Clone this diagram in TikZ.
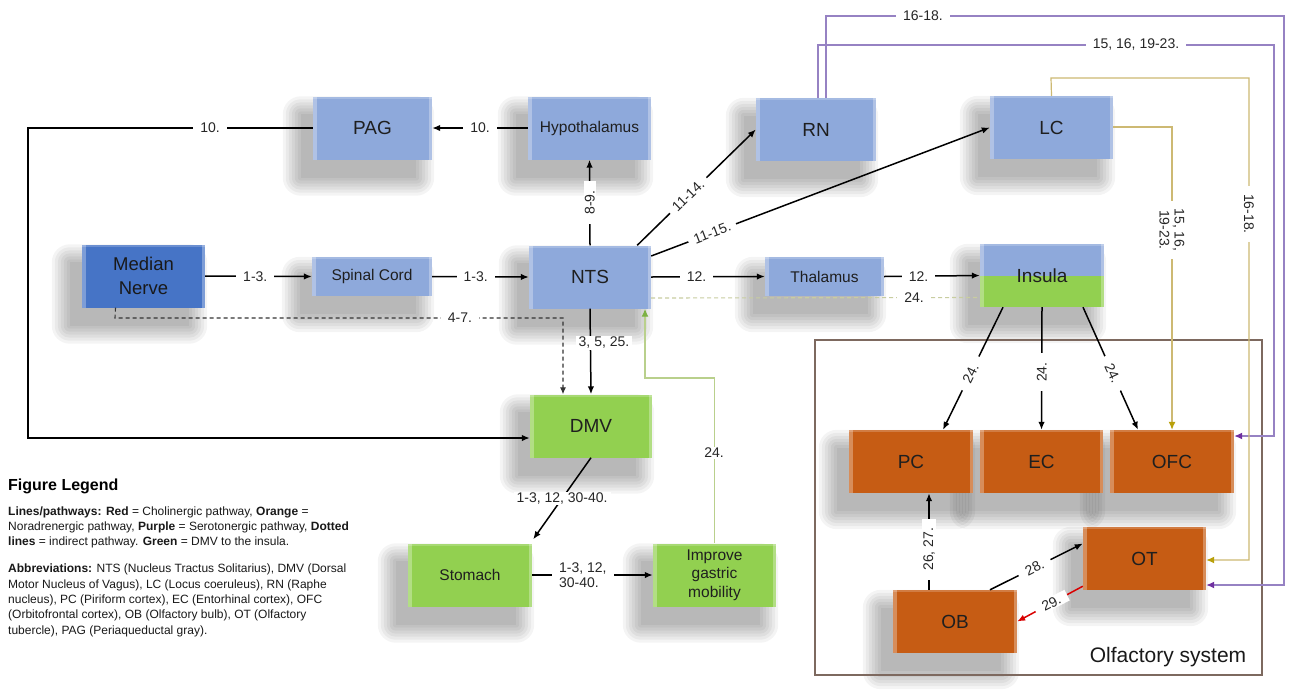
\documentclass[tikz,border=0pt]{standalone}
\usepackage{fontspec}
\setmainfont{Liberation Sans}
\usetikzlibrary{arrows.meta}
\pgfdeclarelayer{paper}
\pgfdeclarelayer{shade}
\pgfsetlayers{paper,shade,main}
\definecolor{bbox}{RGB}{142,169,219}
\definecolor{dbox}{RGB}{70,116,198}
\definecolor{gbox}{RGB}{146,208,80}
\definecolor{obox}{RGB}{198,92,20}
\definecolor{purp}{RGB}{150,130,195}
\definecolor{purpA}{RGB}{112,48,160}
\definecolor{gold}{RGB}{205,185,115}
\definecolor{goldA}{RGB}{185,160,10}
\definecolor{lgreen}{RGB}{185,208,140}
\definecolor{dgreen}{RGB}{200,205,160}
\definecolor{framec}{RGB}{125,105,95}
\newcommand\boxbevel{%
  \fill[white,opacity=.3] (path picture bounding box.south west) rectangle ([xshift=3.5pt]path picture bounding box.north west);
  \fill[white,opacity=.3] ([xshift=-3.5pt]path picture bounding box.south east) rectangle (path picture bounding box.north east);
  \fill[white,opacity=.2] ([yshift=-2pt]path picture bounding box.north west) rectangle (path picture bounding box.north east);}
\tikzset{
  box/.style={rectangle, minimum width=122pt, minimum height=63pt, inner sep=0pt, align=center,
    font=\fontsize{19}{21}\selectfont, text=black!88,
    path picture={\boxbevel}},
  bluebox/.style={box, fill=bbox},
  greenbox/.style={box, fill=gbox},
  orangebox/.style={box, fill=obox},
  smalltext/.style={font=\fontsize{15.5}{18.5}\selectfont},
  conn/.style={line width=1.5pt, black},
  arr/.style={conn, -{Latex[length=8pt,width=6.5pt]}},
  dashconn/.style={line width=1.1pt, black!80, dash pattern=on 4pt off 3pt},
  parr/.style={line width=1.2pt, purp, arrows={-{Latex[length=8pt,width=7pt,color=purpA]}}},
  garr/.style={line width=1.2pt, gold, arrows={-{Latex[length=8pt,width=7pt,color=goldA]}}},
  elabel/.style={fill=white, inner xsep=7pt, inner ysep=1pt, font=\fontsize{14}{16}\selectfont, text=black!85},
}
\begin{document}
\begin{tikzpicture}[x=1pt,y=-1pt]
\begin{pgfonlayer}{paper}
\useasboundingbox[fill=white] (0,0) rectangle (1300,691);
\end{pgfonlayer}

% frame
\draw[framec, line width=1.1pt] (815,340) rectangle (1262,675);
\node[font=\fontsize{21}{24}\selectfont, text=black!90] (olf) at (1168,657) {Olfactory system};

% boxes
\node[bluebox, minimum width=119pt] (pag) at (372.5,128) {PAG};
\node[bluebox, smalltext, minimum width=123pt] (hyp) at (589.5,128) {Hypothalamus};
\node[bluebox, minimum width=120pt] (rn) at (816,129.5) {RN};
\node[bluebox, minimum width=123pt] (lc) at (1051.5,127.5) {LC};
\node[box, fill=dbox, minimum width=123pt, font=\fontsize{18.5}{24}\selectfont, text=black!90] (mn) at (143.5,276) {Median\\Nerve};
\node[bluebox, smalltext, minimum width=120pt, minimum height=39pt] (sp) at (372,276.5) {Spinal Cord};
\node[bluebox, minimum width=122pt] (nts) at (590,277) {NTS};
\node[bluebox, smalltext, minimum width=119pt, minimum height=39pt] (thal) at (824.5,276.5) {Thalamus};
\node[box, fill=bbox, minimum width=124pt,
  path picture={\fill[gbox] (path picture bounding box.west) rectangle (path picture bounding box.south east); \boxbevel}] (ins) at (1042,275.5) {Insula};
\node[greenbox, minimum width=122pt] (dmv) at (591,426) {DMV};
\node[greenbox, smalltext, minimum width=124pt] (sto) at (470,575) {Stomach};
\node[greenbox, smalltext, minimum width=123pt] (imp) at (714.5,575) {Improve\\gastric\\mobility};
\node[orangebox, minimum width=124pt] (pc) at (911,461.5) {PC};
\node[orangebox, minimum width=123pt] (ec) at (1041.5,461.5) {EC};
\node[orangebox, minimum width=124pt] (ofc) at (1172,461.5) {OFC};
\node[orangebox, minimum width=123pt] (ot) at (1144.5,558.5) {OT};
\node[orangebox, minimum width=124pt] (ob) at (955,621.5) {OB};

% soft shadows
\begin{pgfonlayer}{shade}
\foreach \n in {pag,hyp,rn,lc,mn,sp,nts,thal,ins,dmv,sto,imp,pc,ec,ofc,ot,ob}{
  \foreach \k in {0,3,6,9,12,15,18}{
    \fill[black, opacity=.042, rounded corners=\k pt]
      ([xshift=-12pt-\k pt, yshift=-18pt-\k pt]\n.south west) rectangle
      ([xshift=-16pt+\k pt, yshift=-18pt+\k pt]\n.north east);
  }
}
\end{pgfonlayer}

% coordinates
\coordinate (c1) at (28,128);
\coordinate (c2) at (28,438);
\coordinate (c3) at (115,318);
\coordinate (c4) at (563,318);
\coordinate (c5) at (645,378);
\coordinate (c6) at (818,45);
\coordinate (c7) at (1274,45);
\coordinate (c8) at (1274,436);
\coordinate (c9) at (826,16);
\coordinate (c10) at (1284,16);
\coordinate (c11) at (1284,585);
\coordinate (c12) at (1172,127);
\coordinate (c13) at (1051,78);
\coordinate (c14) at (1249,78);
\coordinate (c15) at (1249,560);

% black connectors
\draw[arr] (pag.west) -- (c1) -- (c2) -- (dmv.west |- c2);
\node[elabel] (l10a) at (210,128) {10.};
\draw[arr] (hyp.west) -- node[elabel, pos=.5] (l10b) {10.} (pag.east);
\draw[arr] (nts.north) -- node[elabel, pos=.5, rotate=90, inner xsep=9pt] (l89) {8-9.} (hyp.south);
\draw[arr] ([xshift=-14pt]nts.north east) -- node[elabel, pos=.43, rotate=44, inner ysep=0pt, inner xsep=6pt] (l1114) {11-14.} (rn.west);
\draw[arr] ([yshift=21pt]nts.east) -- node[elabel, pos=.18, rotate=21, inner ysep=0pt, inner xsep=6pt] (l1115) {11-15.} (lc.west);
\draw[arr] (mn.east) -- node[elabel, pos=.47] (l13a) {1-3.} (sp.west);
\draw[arr] (sp.east) -- node[elabel, pos=.45] (l13b) {1-3.} (nts.west);
\draw[arr] (nts.east) -- node[elabel, pos=.4] (l12a) {12.} (thal.west);
\draw[arr] (thal.east) -- node[elabel, pos=.36] (l12b) {12.} (ins.west);
\draw[arr] (nts.south) -- (dmv.north);
\node[elabel, inner xsep=3pt] (l3525) at (604,343) {3, 5, 25.};
\draw[arr] (dmv.south) -- node[elabel, pos=.5, inner xsep=3pt] (l1330) {1-3, 12, 30-40.} ([xshift=1pt,yshift=4pt]sto.north east);
\draw[arr] (sto.east) -- node[elabel, pos=.42, align=left, font=\fontsize{14}{15}\selectfont] (l1330b) {1-3, 12,\\30-40.} (imp.west);
\draw[arr] ([xshift=-39pt]ins.south) -- node[elabel, pos=.54, rotate=64, inner xsep=9pt] (l24a) {24.} ([xshift=32pt]pc.north);
\draw[arr] (ins.south) -- node[elabel, pos=.53, rotate=90, inner xsep=9pt] (l24b) {24.} (ec.north);
\draw[arr] ([xshift=41pt]ins.south) -- node[elabel, pos=.54, rotate=-65, inner xsep=9pt] (l24c) {24.} ([xshift=-34pt]ofc.north);
\draw[arr] ([xshift=-26pt]ob.north) -- node[elabel, pos=.42, rotate=90, inner xsep=9pt] (l2627) {26, 27.} ([xshift=-26pt]ob.north |- pc.south);
\draw[arr] ([xshift=35pt]ob.north) -- node[elabel, pos=.48, rotate=27, inner xsep=8pt] (l28) {28.} ([yshift=15pt]ot.west);
\draw[line width=1.5pt, red!85!black, -{Latex[length=8pt,width=6.5pt]}] ([yshift=4pt]ot.south west) -- node[elabel, pos=.48, rotate=27, inner xsep=8pt] (l29) {29.} (ob.east);

% dashed indirect
\draw[dashconn, -{Latex[length=7pt,width=6pt]}] ([xshift=-28pt]mn.south) -- (c3) -- (c4) -- (c4 |- dmv.north);
\node[elabel] (l47) at (460,318) {4-7.};
\draw[line width=1.1pt, dgreen, dash pattern=on 4pt off 3pt] ([yshift=-21pt]nts.east) -- node[elabel, pos=.8] (l24d) {24.} ([yshift=-22pt]ins.west);

% green
\draw[line width=1.2pt, lgreen, arrows={-{Latex[length=8pt,width=7pt,color=gbox!85!black]}}] (imp.north) |- (c5) -- (c5 |- nts.south);
\node[elabel] (l24e) at (714,453) {24.};

% purple
\draw[parr] ([xshift=2pt]rn.north) -- (c6) -- (c7) -- (c8) -- (ofc.east |- c8);
\node[elabel] (l15a) at (1136,45) {15, 16, 19-23.};
\draw[parr] ([xshift=10pt]rn.north) -- (c9) -- (c10) -- (c11) -- (ot.east |- c11);
\node[elabel] (l1618a) at (923,16) {16-18.};

% gold
\draw[garr] (lc.east |- c12) -- (c12) -- (ofc.north);
\node[elabel, rotate=-90, align=center, font=\fontsize{14}{15}\selectfont, inner xsep=8pt] (l15b) at (1172,230) {15, 16,\\19-23.};
\draw[garr] (lc.north) -- (c13) -- (c14) -- (c15) -- (ot.east |- c15);
\node[elabel, rotate=-90, inner xsep=8pt] (l1618b) at (1249,214) {16-18.};

% legend
\node[anchor=base west, inner sep=0pt, font=\fontsize{16}{18}\selectfont\bfseries] (legt) at (8,490) {Figure Legend};
\node[anchor=north west, inner sep=0pt, align=left, font=\fontsize{12}{15}\selectfont, text=black!90] (leg1) at (8,507)
 {\textbf{Lines/pathways:} \textbf{Red} = Cholinergic pathway, \textbf{Orange} =\\
  Noradrenergic pathway, \textbf{Purple} = Serotonergic pathway, \textbf{Dotted}\\
  \textbf{lines} = indirect pathway. \textbf{Green} = DMV to the insula.};
\node[anchor=north west, inner sep=0pt, align=left, font=\fontsize{12}{15.3}\selectfont, text=black!90] (leg2) at (8,564)
 {\textbf{Abbreviations:} NTS (Nucleus Tractus Solitarius), DMV (Dorsal\\
  Motor Nucleus of Vagus), LC (Locus coeruleus), RN (Raphe\\
  nucleus), PC (Piriform cortex), EC (Entorhinal cortex), OFC\\
  (Orbitofrontal cortex), OB (Olfactory bulb), OT (Olfactory\\
  tubercle), PAG (Periaqueductal gray).};
\end{tikzpicture}
\end{document}
